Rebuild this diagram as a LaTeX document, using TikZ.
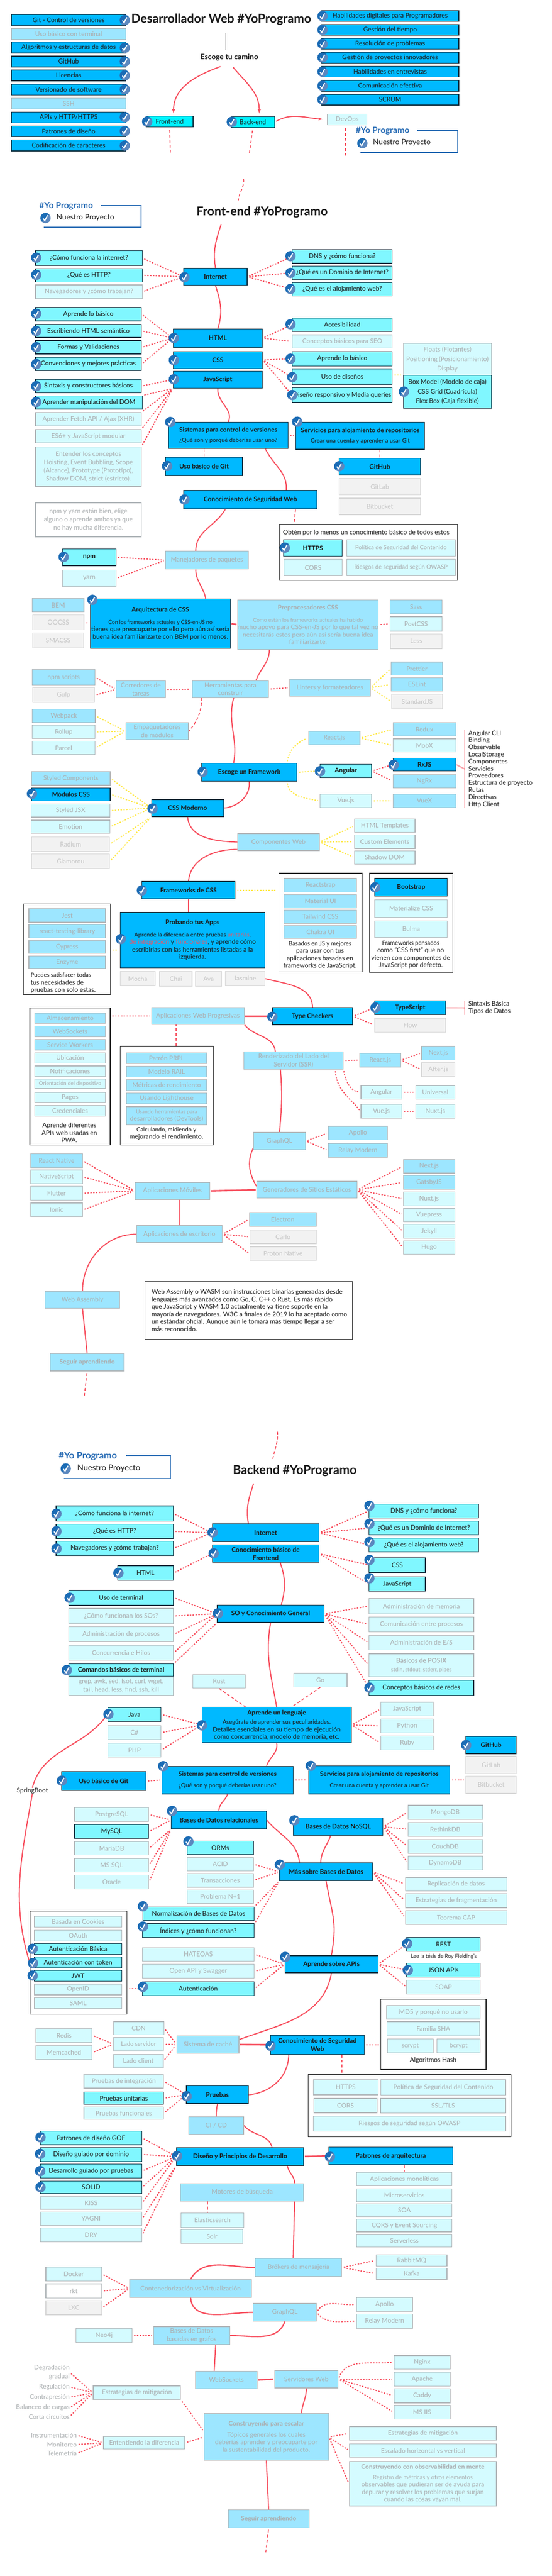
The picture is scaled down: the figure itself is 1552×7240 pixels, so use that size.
\documentclass[tikz,border=0pt]{standalone}
\usepackage{fontspec}
\setmainfont{Lato}
\pgfdeclarelayer{back}
\pgfsetlayers{back,main}
\definecolor{mainblue}{HTML}{00B9FF}
\definecolor{lightcyan}{HTML}{80F7FF}
\definecolor{brightcyan}{HTML}{00F2FF}
\definecolor{fadeblue}{HTML}{9DE6FF}
\definecolor{paleblue}{HTML}{D4FBFF}
\definecolor{greyfill}{HTML}{F2F2F2}
\definecolor{fadeline}{HTML}{B0B6B9}
\definecolor{greyline}{HTML}{D6D6D6}
\definecolor{fadetext}{HTML}{ABAFB1}
\definecolor{greytext}{HTML}{C6C6C6}
\definecolor{inkline}{HTML}{0D2F3F}
\definecolor{inktext}{HTML}{1A1A1A}
\definecolor{linkred}{HTML}{F7505F}
\definecolor{linkpink}{HTML}{F9A3AB}
\definecolor{linkyellow}{HTML}{FFE94A}
\definecolor{brandblue}{HTML}{2A6DB5}
\definecolor{tickdark}{HTML}{1B6CB5}
\definecolor{ticklight}{HTML}{5B88BF}
\newcommand{\nfont}{\fontsize{18}{21}\selectfont}
\newcommand{\mfont}{\fontsize{16.5}{19}\selectfont}
\newcommand{\sfont}{\fontsize{15}{18}\selectfont}
\newcounter{tickno}
% y values are read per band: y_page = \yo + y/\ys
\newcommand{\band}[2]{\def\yo{#1}\def\ys{#2}}
\newcommand{\bx}[7]{%
  \pgfmathsetmacro\cx{(#3+#5)/2}\pgfmathsetmacro\cy{\yo+(#4+#6)/2/\ys}%
  \pgfmathsetmacro\bw{#5-#3}\pgfmathsetmacro\bh{(#6-#4)/\ys}%
  \node[#1,minimum width=\bw pt,minimum height=\bh pt] (#2) at (\cx,\cy) {#7};}
\newcommand{\tx}[5]{%
  \pgfmathsetmacro\cy{\yo+#4/\ys}\node[#1] (#2) at (#3,\cy) {#5};}
\newcommand{\tk}[2]{%
  \stepcounter{tickno}\pgfmathsetmacro\cy{\yo+#2/\ys}%
  \node[tickmark] (tick\thetickno) at (#1,\cy) {};}
\newcommand{\pt}[3]{%
  \pgfmathsetmacro\cy{\yo+#3/\ys}\coordinate (#1) at (#2,\cy);}
\tikzset{
  basebox/.style={draw,rectangle,inner sep=0pt,align=center,font=\nfont,line width=1.8pt},
  mainbox/.style={basebox,fill=mainblue,draw=inkline,text=inktext},
  mainbold/.style={mainbox,font=\nfont\bfseries},
  lightbox/.style={basebox,fill=lightcyan,draw=inkline,text=inktext},
  lightbold/.style={lightbox,font=\nfont\bfseries},
  fadebox/.style={basebox,fill=fadeblue,draw=fadeline,text=fadetext},
  palebox/.style={basebox,fill=paleblue,draw=fadeline,text=fadetext},
  greybox/.style={basebox,fill=greyfill,draw=greyline,text=greytext},
  whitebox/.style={basebox,fill=white,draw=fadeline,text=fadetext},
  framebox/.style={basebox,fill=white,draw=black!85,text=inktext},
  cyanbox/.style={basebox,fill=brightcyan,draw=inkline,text=inktext},
  tickmark/.style={circle,inner sep=0pt,minimum size=29pt,fill=ticklight,
    path picture={
      \fill[tickdark] (path picture bounding box.north west) -- (path picture bounding box.north east)
        -- (path picture bounding box.south west) -- cycle;
      \draw[white,line width=3pt] (-7pt,-1pt) -- (-2pt,-7pt) -- (6pt,8pt);}},
  bigtitle/.style={font=\fontsize{34.5}{38}\selectfont\bfseries,text=inktext,inner sep=0pt},
  subtitle/.style={font=\fontsize{21}{24}\selectfont\bfseries,text=inktext,inner sep=0pt},
  brandname/.style={font=\fontsize{24}{28}\selectfont\bfseries,text=brandblue,inner sep=0pt},
  brandtext/.style={font=\fontsize{21}{24}\selectfont,text=inktext,inner sep=0pt},
  plaintext/.style={font=\nfont,text=inktext,inner sep=0pt,align=center},
  plainleft/.style={font=\nfont,text=inktext,inner sep=0pt,align=left,anchor=west},
  listtext/.style={font=\nfont,text=inktext,anchor=west,align=left,inner xsep=10pt,inner ysep=1pt},
  sidetext/.style={font=\nfont,text=fadetext,anchor=east,align=right,inner sep=0pt},
  flow/.style={draw=linkred,line width=3pt},
  flowthick/.style={draw=linkred,line width=4.5pt,shorten >=2pt,shorten <=2pt},
  dots/.style={draw=linkred,line width=3pt,dash pattern=on 4pt off 4pt,shorten >=5pt,shorten <=5pt},
  ydots/.style={draw=linkyellow,line width=3pt,dash pattern=on 4pt off 4pt,shorten >=5pt,shorten <=5pt},
  dashes/.style={draw=linkred,line width=2.5pt,dash pattern=on 8pt off 6pt},
  brandline/.style={draw=brandblue,line width=2.5pt},
  sideline/.style={draw=linkpink,line width=3.5pt},
  siderule/.style={draw=linkred,line width=1.5pt},
}
\begin{document}
\begin{tikzpicture}[x=1pt,y=-1pt]
\useasboundingbox (0,0) rectangle (1552,7240);

% header
\band{0}{2.529}
\bx{mainbox}{hgit}{32}{103}{354}{180}{Git - Control de versiones}
\bx{fadebox}{hterm}{32}{201}{354}{279}{Uso básico con terminal}
\bx{mainbox}{halgo}{32}{299}{354}{377}{Algoritmos y estructuras de datos}
\bx{mainbox}{hhub}{32}{399}{354}{476}{GitHub}
\bx{mainbox}{hlic}{32}{498}{354}{575}{Licencias}
\bx{mainbox}{hver}{32}{598}{354}{676}{Versionado de software}
\bx{fadebox}{hssh}{32}{697}{354}{775}{SSH}
\bx{mainbox}{hapi}{32}{796}{354}{874}{APIs y HTTP/HTTPS}
\bx{mainbox}{hpat}{32}{895}{354}{972}{Patrones de diseño}
\bx{mainbox}{hcod}{32}{995}{354}{1073}{Codificación de caracteres}
\foreach \y in {143,340,437,536,635,833,932,1035} {\tk{351}{\y}}
\bx{mainbox}{hdig}{904}{75}{1290}{152}{Habilidades digitales para Programadores}
\bx{mainbox}{htime}{904}{174}{1290}{251}{Gestión del tiempo}
\bx{mainbox}{hprob}{904}{273}{1290}{350}{Resolución de problemas}
\bx{mainbox}{hproy}{904}{371}{1290}{448}{Gestión de proyectos innovadores}
\bx{mainbox}{hint}{904}{471}{1290}{548}{Habilidades en entrevistas}
\bx{mainbox}{hcom}{904}{571}{1290}{648}{Comunicación efectiva}
\bx{mainbox}{hscrum}{904}{670}{1290}{747}{SCRUM}
\foreach \y in {115,212,312,409,510,610,708} {\tk{907}{\y}}
\tx{bigtitle}{htitle}{622}{140}{Desarrollador Web \#YoProgramo}
\tx{subtitle}{hpath}{645}{408}{Escoge tu camino}
\bx{cyanbox}{hfront}{411}{826}{543}{903}{Front-end}
\bx{cyanbox}{hback}{650}{829}{772}{906}{Back-end}
\bx{palebox}{hdevops}{921}{811}{1032}{888}{DevOps}
\tk{414}{865}
\tk{652}{867}
\tx{brandname}{hbrand}{1076}{930}{\#Yo Programo}
\tx{brandtext}{hproject}{1130}{1013}{Nuestro Proyecto}
\tk{1019}{1018}
\tx{brandname}{fbrand}{186}{1465}{\#Yo Programo}
\tx{brandtext}{fproject}{240}{1547}{Nuestro Proyecto}
\tk{128}{1550}
\tx{bigtitle}{ftitle}{737}{1507}{Front-end \#YoProgramo}

% frontend: internet, html, css, javascript
\band{620}{2.529}
\bx{mainbold}{finternet}{517}{338}{695}{460}{Internet}
\bx{lightbox}{fcomo}{100}{214}{400}{321}{¿Cómo funciona la internet?}
\bx{lightbox}{fhttp}{100}{341}{400}{437}{¿Qué es HTTP?}
\bx{palebox}{fnav}{100}{457}{400}{553}{Navegadores y ¿cómo trabajan?}
\bx{lightbox}{fdns}{822}{207}{1103}{303}{DNS y ¿cómo funciona?}
\bx{lightbox}{fdominio}{822}{323}{1103}{419}{¿Qué es un Dominio de Internet?}
\bx{lightbox}{fhosting}{822}{440}{1103}{536}{¿Qué es el alojamiento web?}
\bx{lightbox}{fbasic}{100}{618}{397}{713}{Aprende lo básico}
\bx{lightbox}{fsem}{100}{736}{397}{831}{Escribiendo HTML semántico}
\bx{lightbox}{fform}{100}{853}{397}{948}{Formas y Validaciones}
\bx{lightbox}{fconv}{100}{971}{397}{1067}{Convenciones y mejores prácticas}
\bx{mainbold}{fhtml}{487}{769}{738}{902}{HTML}
\bx{mainbold}{fcss}{487}{931}{738}{1051}{CSS}
\bx{mainbold}{fjs}{487}{1070}{738}{1191}{JavaScript}
\bx{lightbox}{facc}{822}{692}{1103}{788}{Accesibilidad}
\bx{palebox}{fseo}{822}{812}{1103}{907}{Conceptos básicos para SEO}
\bx{lightbox}{fcssbasic}{822}{930}{1103}{1033}{Aprende lo básico}
\bx{lightbox}{flayout}{822}{1054}{1103}{1167}{Uso de diseños}
\bx{lightbox}{fresp}{822}{1189}{1103}{1292}{Diseño responsivo y Media queries}
\bx{palebox}{ffloat}{1134}{873}{1382}{1100}{Floats (Flotantes)\\[6pt]Positioning (Posicionamiento)\\[6pt]Display}
\bx{lightbox}{fmodel}{1134}{1100}{1382}{1335}{Box Model (Modelo de caja)\\[6pt]CSS Grid (Cuadrícula)\\[6pt]Flex Box (Caja flexible)}
\bx{lightbox}{fsyntax}{100}{1128}{397}{1224}{Sintaxis y constructores básicos}
\bx{lightbox}{fdom}{100}{1245}{400}{1340}{Aprender manipulación del DOM}
\bx{palebox}{ffetch}{100}{1364}{397}{1459}{Aprender Fetch API / Ajax (XHR)}
\bx{palebox}{fes}{100}{1485}{397}{1580}{ES6+ y JavaScript modular}
\bx{mainbox}{fsistemas}{474}{1433}{810}{1621}{\textbf{Sistemas para control de versiones}\\[8pt]\mfont ¿Qué son y porqué deberías usar uno?}
\bx{mainbox}{fservicios}{832}{1433}{1194}{1625}{\textbf{Servicios para alojamiento de repositorios}\\[8pt]\mfont Crear una cuenta y aprender a usar Git}
\tk{519}{403}
\foreach \y in {264,386,662,785,900,1020,1177,1290} {\tk{102}{\y}}
\foreach \y in {253,372,486,737,982} {\tk{817}{\y}}
\foreach \y in {1113,1240} {\tk{822}{\y}}
\foreach \y in {835,992,1128} {\tk{489}{\y}}
\tk{1136}{1216}
\tk{479}{1432}
\tk{836}{1430}

% frontend: git, security, package managers, css architecture
\band{1240}{2.529}
\bx{palebox}{fconcepts}{100}{41}{397}{321}{Entender los conceptos\\[2pt]Hoisting, Event Bubbling, Scope\\[2pt](Alcance), Prototype (Prototipo),\\[2pt]Shadow DOM, strict (estricto).}
\bx{mainbold}{fgit}{466}{113}{682}{245}{Uso básico de Git}
\bx{mainbold}{fhub}{953}{121}{1183}{240}{GitHub}
\bx{greybox}{flab}{953}{264}{1183}{382}{GitLab}
\bx{greybox}{fbucket}{953}{405}{1183}{522}{Bitbucket}
\bx{mainbold}{fseguridad}{517}{349}{891}{481}{Conocimiento de Seguridad Web}
\bx{whitebox}{fnpmnote}{100}{438}{397}{680}{npm y yarn están bien, elige\\[2pt]alguno o aprende ambos ya que\\[2pt]no hay mucha diferencia.}
\bx{framebox}{fsecframe}{785}{590}{1286}{990}{}
\tx{plaintext}{fsectext}{1030}{650}{Obtén por lo menos un conocimiento básico de todos estos}
\bx{lightbold}{fhttps}{798}{700}{962}{818}{HTTPS}
\bx{palebox}{fcsp}{975}{701}{1280}{817}{\mfont Política de Seguridad del Contenido}
\bx{palebox}{fcors}{799}{840}{962}{956}{CORS}
\bx{palebox}{fowasp}{975}{839}{1280}{955}{\mfont Riesgos de seguridad según OWASP}
\bx{fadebox}{fpack}{466}{781}{698}{910}{Manejadores de paquetes}
\bx{lightbold}{fnpm}{176}{766}{326}{885}{npm}
\bx{palebox}{fyarn}{176}{915}{326}{1034}{yarn}
\bx{mainbox}{farq}{254}{1120}{648}{1472}{\textbf{Arquitectura de CSS}\\[14pt]\sfont Con los frameworks actuales y CSS-en-JS no\\tienes que preocuparte por ello pero aún así sería\\buena idea familiarizarte con BEM por lo menos.}
\bx{fadebox}{fbem}{91}{1118}{236}{1213}{BEM}
\bx{greybox}{foocss}{92}{1235}{236}{1340}{OOCSS}
\bx{greybox}{fsmacss}{92}{1364}{235}{1470}{SMACSS}
\bx{fadebox}{fpre}{669}{1128}{1063}{1480}{\textbf{Preprocesadores CSS}\\[14pt]\sfont Como están los frameworks actuales ha habido\\mucho apoyo para CSS-en-JS por lo que tal vez no\\necesitarás estos pero aún así sería buena idea\\familiarizarte.}
\bx{fadebox}{fsass}{1097}{1127}{1243}{1227}{Sass}
\bx{palebox}{fpost}{1097}{1247}{1243}{1350}{PostCSS}
\bx{greybox}{fless}{1098}{1369}{1243}{1474}{Less}
\tk{470}{176}
\tk{954}{178}
\tk{519}{415}
\tk{801}{757}
\tk{179}{823}
\tk{260}{1128}

% frontend: build tools, frameworks, modern css
\band{1860}{2.529}
\bx{fadebox}{fbuild}{541}{134}{755}{255}{Herramientas para\\construir}
\bx{fadebox}{frunner}{327}{136}{465}{257}{Corredores de\\[2pt]tareas}
\bx{fadebox}{fscripts}{91}{56}{267}{164}{npm scripts}
\bx{greybox}{fgulp}{92}{184}{266}{290}{Gulp}
\bx{fadebox}{flint}{815}{124}{1041}{244}{Linters y formateadores}
\bx{fadebox}{fprettier}{1100}{2}{1245}{96}{Prettier}
\bx{fadebox}{feslint}{1100}{113}{1245}{209}{ESLint}
\bx{greybox}{fstandard}{1101}{231}{1245}{335}{StandardJS}
\bx{fadebox}{fwebpack}{91}{337}{268}{432}{Webpack}
\bx{palebox}{frollup}{91}{451}{267}{546}{Rollup}
\bx{palebox}{fparcel}{91}{564}{267}{660}{Parcel}
\bx{fadebox}{fbundle}{354}{433}{530}{554}{Empaquetadores\\[2pt]de módulos}
\bx{mainbold}{fchoose}{567}{721}{835}{850}{Escoge un Framework}
\bx{fadebox}{freact}{868}{494}{1012}{590}{React.js}
\bx{fadebox}{fredux}{1105}{433}{1282}{528}{Redux}
\bx{palebox}{fmobx}{1105}{547}{1282}{641}{MobX}
\bx{lightbold}{fangular}{900}{729}{1045}{823}{Angular}
\bx{mainbold}{frxjs}{1105}{686}{1282}{776}{RxJS}
\bx{fadebox}{fngrx}{1105}{802}{1282}{897}{NgRx}
\bx{palebox}{fvue}{900}{941}{1045}{1036}{Vue.js}
\bx{fadebox}{fvuex}{1105}{940}{1282}{1036}{VueX}
\tx{listtext}{flist}{1307}{762}{Angular CLI\\[-1pt]Binding\\[-1pt]Observable\\[-1pt]LocalStorage\\[-1pt]Componentes\\[-1pt]Servicios\\[-1pt]Proveedores\\[-1pt]Estructura de proyecto\\[-1pt]Rutas\\[-1pt]Directivas\\[-1pt]Http Client}
\bx{fadebox}{fstyled}{89}{782}{310}{877}{Styled Components}
\bx{mainbold}{fmodules}{89}{896}{310}{988}{Módulos CSS}
\bx{palebox}{fjsx}{88}{1010}{309}{1104}{Styled JSX}
\bx{palebox}{femotion}{88}{1126}{309}{1220}{Emotion}
\bx{greybox}{fradium}{89}{1245}{308}{1348}{Radium}
\bx{greybox}{fglam}{89}{1367}{308}{1470}{Glamorou}
\bx{mainbold}{fmodern}{426}{979}{629}{1100}{CSS Moderno}
\bx{fadebox}{fweb}{668}{1221}{898}{1342}{Componentes Web}
\bx{palebox}{ftemplates}{997}{1118}{1167}{1213}{HTML Templates}
\bx{palebox}{fcustom}{997}{1231}{1167}{1327}{Custom Elements}
\bx{palebox}{fshadow}{997}{1343}{1167}{1438}{Shadow DOM}
\tk{570}{782}
\tk{900}{778}
\tk{1107}{733}
\tk{90}{938}
\tk{429}{1043}

% frontend: css frameworks, testing, type checkers, pwa, ssr
\band{2480}{2.529}
\bx{mainbold}{fframe}{399}{-6}{661}{115}{Frameworks de CSS}
\bx{framebox}{fjsframe}{784}{-65}{1018}{637}{}
\bx{framebox}{fcssframe}{1039}{-65}{1273}{638}{}
\bx{fadebox}{fstrap}{799}{-28}{1003}{68}{Reactstrap}
\bx{fadebox}{fmaterial}{799}{86}{1003}{182}{Material UI}
\bx{fadebox}{ftail}{799}{197}{1003}{290}{Tailwind CSS}
\bx{fadebox}{fchakra}{799}{309}{1003}{397}{Chakra UI}
\tx{plaintext}{fjstext}{900}{517}{\mfont Basados en JS y mejores\\para usar con tus\\aplicaciones basadas en\\frameworks de JavaScript.}
\bx{mainbold}{fboot}{1054}{-28}{1258}{98}{Bootstrap}
\bx{palebox}{fmatcss}{1054}{124}{1258}{247}{Materialize CSS}
\bx{palebox}{fbulma}{1054}{273}{1258}{391}{Bulma}
\tx{plaintext}{fcsstext}{1155}{514}{\mfont Frameworks pensados\\como "CSS first" que no\\vienen con componentes de\\JavaScript por defecto.}
\bx{mainbox}{ftest}{338}{213}{745}{606}{\textbf{Probando tus Apps}\\[14pt]\mfont Aprende la diferencia entre pruebas \textcolor{linkred}{unitarias},\\\textcolor{linkred}{de integración} y \textcolor{linkred}{funcionales}, y aprende cómo\\escribirlas con las herramientas listadas a la\\izquierda.}
\bx{framebox}{ftestframe}{66}{153}{311}{796}{}
\bx{fadebox}{fjest}{81}{187}{297}{283}{Jest}
\bx{fadebox}{frtl}{81}{300}{297}{396}{react-testing-library}
\bx{fadebox}{fcypress}{81}{412}{297}{505}{Cypress}
\bx{fadebox}{fenzyme}{81}{523}{297}{612}{Enzyme}
\tx{plainleft}{ftesttext}{86}{715}{\mfont Puedes satisfacer todas\\tus necesidades de\\pruebas con solo estas.}
\bx{greybox}{fmocha}{338}{632}{437}{736}{Mocha}
\bx{greybox}{fchai}{449}{634}{540}{738}{Chai}
\bx{greybox}{fava}{550}{634}{623}{738}{Ava}
\bx{greybox}{fjasmine}{633}{632}{745}{736}{Jasmine}
\bx{mainbold}{ftype}{766}{890}{992}{1012}{Type Checkers}
\bx{mainbold}{fts}{1054}{842}{1253}{940}{TypeScript}
\bx{greybox}{fflow}{1054}{967}{1253}{1064}{Flow}
\tx{listtext}{ftslist}{1307}{892}{Sintaxis Básica\\[-1pt]Tipos de Datos}
\bx{fadebox}{fpwa}{426}{891}{687}{1011}{Aplicaciones Web Progresivas}
\bx{framebox}{fapiframe}{84}{892}{310}{1866}{}
\bx{fadebox}{fstore}{98}{928}{296}{1003}{Almacenamiento}
\bx{fadebox}{fsockets}{98}{1022}{296}{1097}{WebSockets}
\bx{fadebox}{fworkers}{98}{1115}{296}{1191}{Service Workers}
\bx{palebox}{flocation}{98}{1210}{296}{1284}{Ubicación}
\bx{palebox}{fnotif}{98}{1305}{296}{1380}{Notificaciones}
\bx{palebox}{fdevice}{98}{1399}{296}{1466}{\sfont Orientación del dispositivo}
\bx{palebox}{fpay}{98}{1492}{296}{1566}{Pagos}
\bx{palebox}{fcred}{98}{1586}{296}{1661}{Credenciales}
\bx{framebox}{fperfframe}{338}{1164}{600}{1866}{}
\bx{fadebox}{fprpl}{356}{1211}{581}{1287}{Patrón PRPL}
\bx{fadebox}{frail}{356}{1306}{581}{1383}{Modelo RAIL}
\bx{fadebox}{fmetric}{356}{1403}{581}{1480}{Métricas de rendimiento}
\bx{fadebox}{flight}{356}{1497}{581}{1575}{Usando Lighthouse}
\bx{fadebox}{fdevtools}{356}{1594}{581}{1724}{\sfont Usando herramientas para\\desarrolladores (DevTools)}
\bx{fadebox}{fssr}{686}{1205}{965}{1327}{Renderizado del Lado del\\[2pt]Servidor (SSR)}
\bx{fadebox}{fssrreact}{1011}{1214}{1127}{1312}{React.js}
\bx{fadebox}{fnextjs}{1186}{1163}{1279}{1262}{Next.js}
\bx{greybox}{fafter}{1186}{1283}{1279}{1380}{After.js}
\bx{palebox}{fssrangular}{1015}{1444}{1130}{1542}{Angular}
\bx{palebox}{funiversal}{1169}{1444}{1279}{1542}{Universal}
\tk{399}{57}
\tk{1055}{35}
\tk{340}{403}
\tk{766}{955}
\tk{1056}{890}

% frontend: graphql, static sites, mobile, desktop, wasm
\band{3100}{2.529}
\tx{plaintext}{fapitext}{195}{211}{Aprende diferentes\\APIs web usadas en\\PWA.}
\tx{plaintext}{fperftext}{468}{218}{\mfont Calculando, midiendo y\\mejorando el rendimiento.}
\bx{palebox}{fssrvue}{1015}{10}{1130}{108}{Vue.js}
\bx{palebox}{fnuxt}{1169}{10}{1279}{108}{Nuxt.js}
\bx{fadebox}{fgql}{713}{209}{859}{331}{GraphQL}
\bx{fadebox}{fapollo}{923}{165}{1090}{263}{Apollo}
\bx{fadebox}{frelay}{923}{288}{1090}{386}{Relay Modern}
\bx{fadebox}{fgen}{722}{557}{1004}{677}{Generadores de Sitios Estáticos}
\bx{fadebox}{fsnext}{1134}{400}{1279}{498}{Next.js}
\bx{fadebox}{fgatsby}{1134}{516}{1279}{613}{GatsbyJS}
\bx{palebox}{fsnuxt}{1134}{632}{1279}{730}{Nuxt.js}
\bx{palebox}{fvuepress}{1134}{747}{1279}{844}{Vuepress}
\bx{palebox}{fjekyll}{1134}{863}{1279}{961}{Jekyll}
\bx{palebox}{fhugo}{1134}{979}{1279}{1076}{Hugo}
\bx{fadebox}{fmobile}{380}{564}{590}{685}{Aplicaciones Móviles}
\bx{fadebox}{fnative}{86}{362}{232}{460}{React Native}
\bx{palebox}{fscript}{86}{476}{232}{573}{NativeScript}
\bx{palebox}{fflutter}{86}{592}{232}{690}{Flutter}
\bx{palebox}{fionic}{86}{711}{232}{808}{Ionic}
\bx{fadebox}{fdesk}{384}{872}{625}{993}{Aplicaciones de escritorio}
\bx{fadebox}{felectron}{701}{779}{889}{877}{Electron}
\bx{greybox}{fcarlo}{703}{903}{889}{1000}{Carlo}
\bx{greybox}{fproton}{703}{1022}{889}{1120}{Proton Native}
\bx{fadebox}{fwasm}{127}{1337}{337}{1460}{Web Assembly}
\bx{framebox}{fwasmframe}{408}{1268}{992}{1680}{}
\tx{plainleft}{fwasmtext}{426}{1474}{Web Assembly o WASM son instrucciones binarias generadas desde\\lenguajes más avanzados como Go, C, C++ o Rust. Es más rápido\\que JavaScript y WASM 1.0 actualmente ya tiene soporte en la\\mayoría de navegadores. W3C a finales de 2019 lo ha aceptado como\\un estándar oficial. Aunque aún le tomará más tiempo llegar a ser\\más reconocido.}

% backend
\band{3720}{2.529}
\bx{fadebox}{fkeep}{141}{214}{349}{337}{\textbf{Seguir aprendiendo}}
\tx{brandname}{bbrand}{247}{943}{\fontsize{26}{30}\selectfont\#Yo Programo}
\tx{brandtext}{bproject}{306}{1028}{\fontsize{23}{26}\selectfont Nuestro Proyecto}
\tk{185}{1031}
\tx{bigtitle}{btitle}{829}{1047}{Backend \#YoProgramo}
\bx{mainbold}{binternet}{597}{1424}{897}{1550}{Internet}
\bx{lightbox}{bcomo}{158}{1296}{487}{1405}{¿Cómo funciona la internet?}
\bx{lightbox}{bhttp}{158}{1427}{487}{1527}{¿Qué es HTTP?}
\bx{lightbox}{bnav}{158}{1548}{487}{1648}{Navegadores y ¿cómo trabajan?}
\bx{lightbox}{bdns}{1038}{1282}{1346}{1381}{DNS y ¿cómo funciona?}
\bx{lightbox}{bdominio}{1038}{1403}{1346}{1501}{¿Qué es un Dominio de Internet?}
\bx{lightbox}{bhosting}{1038}{1525}{1346}{1622}{¿Qué es el alojamiento web?}
\tk{598}{1484}
\tk{159}{1352}
\tk{159}{1476}
\foreach \y in {1295,1423,1553} {\tk{1039}{\y}}

\band{4340}{2.529}
\tk{159}{32}
\bx{mainbold}{bfront}{597}{5}{897}{130}{Conocimiento básico de\\[2pt]Frontend}
\bx{lightbox}{bhtml}{331}{153}{487}{257}{HTML}
\bx{lightbox}{bcss}{1038}{97}{1196}{200}{CSS}
\bx{lightbox}{bjs}{1038}{231}{1196}{335}{JavaScript}
\bx{mainbold}{bso}{611}{433}{911}{556}{SO y Conocimiento General}
\bx{lightbox}{bterm}{193}{327}{488}{435}{Uso de terminal}
\bx{palebox}{bsos}{193}{457}{488}{564}{¿Cómo funcionan los SOs?}
\bx{palebox}{bproc}{193}{588}{488}{691}{Administración de procesos}
\bx{palebox}{bconc}{193}{719}{488}{824}{Concurrencia e Hilos}
\bx{palebox}{bcmdlist}{193}{937}{488}{1074}{grep, awk, sed, lsof, curl, wget,\\[2pt]tail, head, less, find, ssh, kill}
\bx{lightbold}{bcmd}{193}{851}{488}{937}{\raisebox{-6pt}{Comandos básicos de terminal}}
\bx{palebox}{bmem}{1038}{387}{1332}{494}{Administración de memoria}
\bx{palebox}{bipc}{1038}{517}{1332}{623}{Comunicación entre procesos}
\bx{palebox}{bio}{1038}{648}{1332}{752}{Administración de E/S}
\bx{palebox}{bposix}{1038}{779}{1332}{942}{\textbf{Básicos de POSIX}\\[4pt]\sfont stdin, stdout, stderr, pipes}
\bx{lightbox}{bnet}{1038}{967}{1332}{1074}{Conceptos básicos de redes}
\bx{mainbox}{blang}{568}{1159}{988}{1411}{\textbf{Aprende un lenguaje}\\[6pt]\mfont Asegúrate de aprender sus peculiaridades.\\Detalles esenciales en su tiempo de ejecución\\como concurrencia, modelo de memoria, etc.}
\bx{palebox}{brust}{542}{927}{690}{1023}{Rust}
\bx{palebox}{bgo}{826}{915}{976}{1014}{Go}
\bx{lightbox}{bjava}{303}{1162}{453}{1259}{Java}
\bx{palebox}{bcsharp}{303}{1290}{453}{1388}{C\#}
\bx{palebox}{bphp}{303}{1414}{453}{1512}{PHP}
\bx{palebox}{bjsl}{1071}{1123}{1219}{1220}{JavaScript}
\bx{palebox}{bpy}{1071}{1242}{1219}{1342}{Python}
\bx{palebox}{bruby}{1071}{1364}{1219}{1463}{Ruby}
\bx{mainbold}{bhub}{1310}{1366}{1452}{1489}{GitHub}
\bx{greybox}{blab}{1310}{1508}{1452}{1630}{GitLab}
\bx{greybox}{bbucket}{1310}{1650}{1452}{1771}{Bitbucket}
\tk{601}{65}
\tk{333}{205}
\foreach \y in {112,242,1020} {\tk{1039}{\y}}
\tk{196}{381}
\tk{613}{492}
\tk{188}{895}
\tk{568}{1288}
\tk{305}{1208}
\tk{1311}{1428}

\band{4960}{2.529}
\bx{mainbold}{bgit}{173}{48}{410}{184}{Uso básico de Git}
\bx{mainbox}{bsist}{455}{10}{825}{207}{\textbf{Sistemas para control de versiones}\\[10pt]\mfont ¿Qué son y porqué deberías usar uno?}
\bx{mainbox}{bserv}{868}{8}{1265}{207}{\textbf{Servicios para alojamiento de repositorios}\\[10pt]\mfont Crear una cuenta y aprender a usar Git}
\tx{plaintext}{bspring}{91}{184}{SpringBoot}
\bx{mainbold}{brel}{482}{329}{749}{456}{Bases de Datos relacionales}
\bx{palebox}{bpg}{210}{305}{418}{403}{PostgreSQL}
\bx{lightbox}{bmysql}{210}{426}{418}{525}{MySQL}
\bx{palebox}{bmaria}{210}{546}{418}{641}{MariaDB}
\bx{palebox}{bms}{210}{667}{418}{763}{MS SQL}
\bx{palebox}{boracle}{210}{785}{418}{884}{Oracle}
\bx{mainbold}{bnosql}{825}{378}{1077}{503}{Bases de Datos NoSQL}
\bx{palebox}{bmongo}{1147}{288}{1357}{388}{MongoDB}
\bx{palebox}{brethink}{1147}{409}{1357}{508}{RethinkDB}
\bx{palebox}{bcouch}{1147}{532}{1357}{629}{CouchDB}
\bx{palebox}{bdynamo}{1147}{647}{1357}{748}{DynamoDB}
\bx{mainbold}{bmas}{786}{698}{1048}{824}{Más sobre Bases de Datos}
\bx{lightbox}{borm}{526}{543}{713}{639}{ORMs}
\bx{palebox}{bacid}{526}{659}{713}{755}{ACID}
\bx{palebox}{btrans}{526}{772}{713}{870}{Transacciones}
\bx{palebox}{bn}{526}{890}{713}{985}{Problema N+1}
\bx{lightbox}{bnorm}{402}{1010}{715}{1106}{Normalización de Bases de Datos}
\bx{lightbox}{bidx}{400}{1130}{715}{1228}{Índices y ¿cómo funcionan?}
\bx{palebox}{brep}{1140}{800}{1425}{896}{Replicación de datos}
\bx{palebox}{bshard}{1140}{916}{1425}{1016}{Estrategias de fragmentación}
\bx{palebox}{bcap}{1140}{1037}{1425}{1135}{Teorema CAP}
\bx{mainbold}{bapis}{801}{1357}{1063}{1478}{Aprende sobre APIs}
\bx{lightbox}{brest}{1144}{1227}{1350}{1325}{REST}
\tx{plaintext}{bfield}{1248}{1364}{\sfont Lee la tésis de Roy Fielding's}
\bx{lightbox}{bjson}{1144}{1409}{1350}{1508}{JSON APIs}
\bx{palebox}{bsoap}{1144}{1530}{1350}{1630}{SOAP}
\bx{palebox}{bhate}{400}{1299}{715}{1395}{HATEOAS}
\bx{palebox}{bswag}{400}{1418}{715}{1516}{Open API y Swagger}
\bx{lightbox}{bauth}{400}{1543}{715}{1640}{Autenticación}
\bx{framebox}{bauthframe}{85}{1040}{357}{1773}{}
\bx{palebox}{bcook}{97}{1078}{342}{1155}{Basada en Cookies}
\bx{palebox}{boauth}{97}{1177}{342}{1253}{OAuth}
\bx{lightbox}{bbasic}{97}{1270}{342}{1348}{Autenticación Básica}
\bx{lightbox}{btoken}{97}{1365}{342}{1443}{Autenticación con token}
\bx{lightbox}{bjwt}{97}{1462}{342}{1538}{JWT}
\bx{palebox}{bopen}{97}{1558}{342}{1635}{OpenID}
\bx{palebox}{bsaml}{97}{1655}{342}{1731}{SAML}
\tk{174}{113}
\tk{459}{10}
\tk{874}{8}
\tk{484}{328}
\tk{828}{395}
\tk{787}{710}
\tk{530}{545}
\tk{402}{1006}
\tk{402}{1150}
\tk{802}{1366}
\tk{1145}{1271}
\tk{1147}{1460}
\tk{92}{1308}
\tk{93}{1410}
\tk{92}{1498}
\tk{402}{1578}

\band{5580}{2.529}
\bx{fadebox}{bcache}{497}{357}{672}{483}{Sistema de caché}
\bx{palebox}{bcdn}{319}{258}{461}{351}{CDN}
\bx{palebox}{bserver}{319}{370}{460}{466}{\mfont Lado servidor}
\bx{palebox}{bclient}{319}{489}{459}{586}{Lado client}
\bx{palebox}{bredis}{101}{306}{259}{405}{Redis}
\bx{palebox}{bmemc}{101}{428}{259}{526}{Memcached}
\bx{mainbold}{bseg}{761}{354}{1024}{490}{Conocimiento de Seguridad\\[2pt]Web}
\bx{framebox}{bhashframe}{1071}{99}{1367}{598}{}
\bx{palebox}{bmd}{1087}{142}{1350}{239}{MD5 y porqué no usarlo}
\bx{palebox}{bsha}{1088}{258}{1349}{357}{Familia SHA}
\bx{palebox}{bscrypt}{1089}{380}{1218}{480}{scrypt}
\bx{palebox}{bbcrypt}{1229}{380}{1350}{480}{bcrypt}
\tx{plaintext}{bhash}{1218}{534}{Algoritmos Hash}
\bx{framebox}{bsecframe}{867}{635}{1437}{1076}{}
\bx{palebox}{bhttps}{881}{671}{1063}{778}{HTTPS}
\bx{palebox}{bcsp}{1071}{671}{1422}{780}{Política de Seguridad del Contenido}
\bx{palebox}{bcors}{882}{803}{1061}{906}{CORS}
\bx{palebox}{bssl}{1070}{803}{1422}{909}{SSL/TLS}
\bx{palebox}{bowasp}{881}{930}{1422}{1035}{Riesgos de seguridad según OWASP}
\bx{mainbold}{btest}{524}{714}{699}{840}{Pruebas}
\bx{palebox}{bint}{236}{632}{460}{730}{Pruebas de integración}
\bx{lightbox}{bunit}{236}{757}{460}{846}{Pruebas unitarias}
\bx{palebox}{bfunc}{236}{864}{460}{952}{Pruebas funcionales}
\bx{fadebox}{bci}{531}{933}{685}{1059}{CI / CD}
\bx{mainbold}{bdesign}{496}{1153}{854}{1279}{Diseño y Principios de Desarrollo}
\bx{mainbold}{barq}{924}{1149}{1274}{1274}{Patrones de arquitectura}
\bx{lightbox}{bgof}{113}{1035}{399}{1133}{Patrones de diseño GOF}
\bx{lightbox}{bddd}{113}{1152}{399}{1251}{Diseño guiado por dominio}
\bx{lightbox}{btdd}{113}{1271}{399}{1368}{Desarrollo guiado por pruebas}
\bx{lightbox}{bsolid}{113}{1391}{399}{1479}{SOLID}
\bx{palebox}{bkiss}{113}{1500}{399}{1591}{KISS}
\bx{fadebox}{bsearch}{508}{1408}{854}{1535}{Motores de búsqueda}
\bx{palebox}{bmono}{1003}{1328}{1271}{1425}{Aplicaciones monolíticas}
\bx{palebox}{bmicro}{1003}{1446}{1271}{1537}{Microservicios}
\tk{761}{430}
\tk{525}{788}
\tk{498}{1213}
\tk{928}{1218}
\tk{114}{1080}
\tk{113}{1198}
\tk{113}{1320}
\tk{114}{1435}

\band{6200}{3}
\bx{palebox}{byagni}{113}{50}{399}{163}{YAGNI}
\bx{palebox}{bdry}{113}{187}{399}{302}{DRY}
\bx{palebox}{belastic}{509}{60}{686}{180}{Elasticsearch}
\bx{palebox}{bsolr}{509}{199}{683}{315}{Solr}
\bx{palebox}{bsoa}{1003}{-18}{1271}{90}{SOA}
\bx{palebox}{bcqrs}{1003}{111}{1271}{218}{CQRS y Event Sourcing}
\bx{palebox}{bless}{1003}{237}{1271}{347}{Serverless}
\bx{fadebox}{bbroker}{718}{443}{961}{594}{Brókers de mensajería}
\bx{palebox}{brabbit}{1058}{410}{1257}{507}{RabbitMQ}
\bx{palebox}{bkafka}{1058}{524}{1257}{618}{Kafka}
\bx{fadebox}{bcont}{365}{620}{707}{772}{Contenedorización vs Virtualización}
\bx{palebox}{bdocker}{129}{516}{286}{632}{Docker}
\bx{whitebox}{brkt}{129}{657}{286}{777}{rkt}
\bx{greybox}{blxc}{129}{797}{286}{917}{LXC}
\bx{fadebox}{bgql}{712}{822}{890}{972}{GraphQL}
\bx{palebox}{bapollo}{1003}{771}{1160}{888}{Apollo}
\bx{palebox}{brelay}{1003}{911}{1160}{1032}{Relay Modern}
\bx{fadebox}{bgraph}{432}{1017}{646}{1167}{Bases de Datos\\[2pt]basadas en grafos}
\bx{palebox}{bneo}{214}{1032}{371}{1149}{Neo4j}
\bx{fadebox}{bsock}{550}{1392}{723}{1541}{WebSockets}
\bx{fadebox}{bweb}{772}{1386}{951}{1534}{Servidores Web}
\bx{palebox}{bnginx}{1108}{1260}{1266}{1377}{Nginx}
\bx{palebox}{bapache}{1108}{1401}{1266}{1520}{Apache}
\bx{palebox}{bcaddy}{1108}{1541}{1266}{1660}{Caddy}
\tx{sidetext}{bdegrade}{196}{1403}{Degradación\\[3pt]gradual}
\tx{sidetext}{bthrottle}{196}{1525}{Regulación}

\band{6720}{3}
\bx{palebox}{bmsiis}{1108}{120}{1266}{237}{MS IIS}
\bx{palebox}{bmitleft}{262}{-43}{508}{73}{Estrategias de mitigación}
\tx{sidetext}{bback}{196}{52}{Contrapresión}
\tx{sidetext}{bload}{196}{140}{Balanceo de cargas}
\tx{sidetext}{bbreak}{196}{217}{Corta circuitos}
\bx{fadebox}{bscale}{574}{191}{924}{585}{\textbf{Construyendo para escalar}\\[10pt]Tópicos generales los cuales\\deberías aprender y preocuparte por\\la sustentabilidad del producto.}
\bx{palebox}{bdiff}{291}{384}{520}{489}{Ententiendo la diferencia}
\tx{sidetext}{binstr}{216}{373}{Instrumentación}
\tx{sidetext}{bmon}{216}{451}{Monitoreo}
\tx{sidetext}{btele}{216}{527}{Telemetría}
\bx{palebox}{bmitright}{982}{300}{1396}{416}{Estrategias de mitigación}
\bx{palebox}{bhoriz}{983}{445}{1396}{560}{Escalado horizontal vs vertical}
\bx{palebox}{bobs}{982}{592}{1396}{969}{\textbf{Construyendo con observabilidad en mente}\\[8pt]\mfont Registro de métricas y otros elementos\\observables que pudieran ser de ayuda para\\depurar y resolver los problemas que surjan\\cuando las cosas vayan mal.}
\bx{fadebox}{bnext}{642}{1002}{869}{1152}{\textbf{Seguir aprendiendo}}

\begin{pgfonlayer}{back}
% header links
\band{0}{2.529}
\pt{hlinetop}{635}{235}
\pt{hlinebot}{635}{357}
\draw[draw=gray,line width=2.5pt] (hlinetop) -- (hlinebot);
\pt{hleft}{620}{473}
\pt{hright}{655}{477}
\pt{harrowl}{488}{807}
\pt{harrowr}{729}{807}
\draw[flow,-latex] (hleft) to[out=200,in=90] (harrowl);
\draw[flow,-latex] (hright) to[out=-50,in=90] (harrowr);
\pt{harrowd}{908}{848}
\draw[flow,-latex,shorten <=4pt] (hback.east) to[out=30,in=175] (harrowd);
\pt{hdownf}{479}{1087}
\pt{hdownb}{701}{1095}
\pt{hdownd}{972}{1108}
\draw[dashes,shorten <=7pt] (hfront.south) -- (hdownf);
\draw[dashes,shorten <=8pt] (hback.south) -- (hdownb);
\pt{hdevstart}{972}{910}
\draw[dashes] (hdevstart) -- (hdownd);
\pt{fdashtop}{685}{1275}
\pt{fdashbot}{670}{1425}
\draw[dashes] (fdashtop) to[out=-85,in=85] (fdashbot);
\pt{hbrandstart}{1173}{926}
\pt{hbrandcorner}{1287}{926}
\pt{hbrandlow}{1287}{1083}
\pt{hbrandend}{1013}{1083}
\draw[brandline] (hbrandstart) -- (hbrandcorner) -- (hbrandlow) -- (hbrandend);
\pt{fbrandstart}{284}{1460}
\pt{fbrandcorner}{397}{1460}
\pt{fbrandlow}{397}{1615}
\pt{fbrandend}{123}{1615}
\draw[brandline] (fbrandstart) -- (fbrandcorner) -- (fbrandlow) -- (fbrandend);

% frontend links
\band{620}{2.529}
\pt{ftop}{622}{25}
\draw[flow] (ftop) to[out=-108,in=100] (finternet.north);
\foreach \a in {fcomo,fhttp,fnav} \draw[dots] (\a.east) -- (finternet.west);
\foreach \a in {fdns,fdominio,fhosting} \draw[dots] (finternet.east) -- (\a.west);
\draw[flow] (finternet.south) to[out=-72,in=72] (fhtml.north);
\foreach \a in {fbasic,fsem,fform,fconv} \draw[dots] (\a.east) -- (fhtml.west);
\foreach \a in {facc,fseo} \draw[dots] (fhtml.east) -- (\a.west);
\foreach \a in {fcssbasic,flayout,fresp} \draw[dots] (fcss.east) -- (\a.west);
\draw[ydots] (flayout.east |- fmodel.north) -- (fmodel.north west);
\draw[dots] (fsyntax.east) -- (fjs.west);
\foreach \a in {fdom,ffetch,fes,fconcepts} \draw[dots] (\a.north east) -- (fjs.south west);
\draw[flow] (fjs.south) to[out=-95,in=65] (fsistemas.north);
\draw[dots] (fsistemas.east) -- (fservicios.west);
\draw[dashes] (fsistemas.south -| fgit.north) -- (fgit.north);
\draw[dashes] (fservicios.south -| fhub.north) -- (fhub.north);
\draw[flow] (fsistemas.-20) to[out=-65,in=85] (fseguridad.15);
\draw[dashes] (fseguridad.-12) -- (fsecframe.159);
\draw[flow] (fseguridad.201) to[out=-120,in=90] (fpack.140);
\foreach \a in {fnpm,fyarn} \draw[dots] (\a.east) -- (fpack.west);
\draw[flow] (fpack.220) to[out=-90,in=100] (farq.29);
\draw[dots,draw=linkpink] (foocss.east) -- (farq.west);
\draw[flowthick] (farq.east) -- (fpre.west);
\draw[dots] (fpre.east) -- (fpost.west);
\draw[flow] (fpre.213) to[out=-90,in=70] (fbuild.19);
\foreach \a in {fscripts,fgulp} \draw[dots] (\a.east) -- (frunner.west);
\draw[dots] (frunner.east) -- (fbuild.west);
\draw[dots] (fbuild.east) -- (flint.west);
\foreach \a in {fprettier,feslint,fstandard} \draw[ydots] (flint.east) -- (\a.west);
\foreach \a in {fwebpack,frollup,fparcel} \draw[ydots] (\a.east) -- (fbundle.west);
\draw[dashes] (fbuild.197) to[out=-90,in=50] (fbundle.east);
\draw[flow] (fbuild.-70) to[out=-105,in=80] (fchoose.149);
\draw[ydots] (fchoose.east) -- (fangular.west);
\draw[ydots] (fchoose.14) to[out=80,in=200] (freact.west);
\draw[ydots] (fchoose.-14) to[out=-80,in=170] (fvue.west);
\foreach \a in {fredux,fmobx} \draw[ydots] (freact.east) -- (\a.west);
\draw[ydots] (fvue.east) -- (fvuex.west);
\foreach \a in {frxjs,fngrx} \draw[dots] (fangular.east) -- (\a.west);
\draw[sideline] (frxjs.east) -- (flist.west);
\draw[siderule] (flist.north west) -- (flist.south west);
\draw[flow] (fchoose.south) to[out=-85,in=5] (fmodern.east);
\foreach \a in {fstyled,fmodules,fjsx,femotion} \draw[ydots] (\a.east) -- (fmodern.west);
\foreach \a in {fradium,fglam} \draw[ydots] (\a.east) -- (fmodern.south west);
\draw[flow] (fmodern.south) to[out=-85,in=178] (fweb.west);
\foreach \a in {ftemplates,fcustom,fshadow} \draw[ydots] (fweb.east) -- (\a.west);
\draw[flow] (fweb.190) to[out=180,in=85] (fframe.north);
\draw[ydots] (fframe.east) -- (fjsframe.west |- fframe.east);
\draw[flow] (fframe.south) -- (fframe.south |- ftest.north);
\draw[ydots] (ftestframe.east |- ftest.-8) -- (ftest.west |- ftest.-8);
\draw[flow] (fjasmine.east) to[out=-15,in=92] (ftype.north);
\foreach \a in {fts,fflow} \draw[dots] (ftype.east) -- (\a.west);
\draw[sideline] (fts.east) -- (ftslist.west);
\draw[siderule] (ftslist.north west) -- (ftslist.south west);
\draw[flowthick] (fpwa.east) -- (ftype.west);
\draw[dots] (fapiframe.east |- fpwa.west) -- (fpwa.west);
\draw[dashes] (fperfframe.north -| fpwa.202) -- (fpwa.202);
\draw[flow] (fpwa.south east) to[out=-50,in=95] (fssr.154);
\draw[dots] (fssr.east) -- (fssrreact.west);
\foreach \a in {fnextjs,fafter} \draw[dots] (fssrreact.east) -- (\a.west);
\draw[dots] (fssr.-10) to[out=-80,in=170] (fssrangular.west);
\draw[dots] (fssr.-12) to[out=-88,in=130] (fssrvue.west);
\draw[dots] (fssrangular.east) -- (funiversal.west);
\draw[dots] (fssrvue.east) -- (fnuxt.west);
\draw[flow] (fssr.214) to[out=-85,in=85] (fgql.north);
\foreach \a in {fapollo,frelay} \draw[dots] (fgql.east) -- (\a.west);
\draw[flow] (fgql.195) to[out=-115,in=120] (fgen.176);
\foreach \a in {fsnext,fgatsby,fsnuxt,fvuepress,fjekyll,fhugo} \draw[dots] (fgen.east) -- (\a.west);
\draw[flowthick] (fmobile.east) -- (fgen.west);
\foreach \a in {fnative,fscript,fflutter,fionic} \draw[dots] (\a.east) -- (fmobile.west);
\draw[flow] (fdesk.north |- fmobile.south) -- (fdesk.north);
\foreach \a in {felectron,fcarlo,fproton} \draw[dots] (fdesk.east) -- (\a.west);
\draw[flow] (fdesk.west) to[out=180,in=90] (fwasm.north);
\draw[flow] (fwasm.south) -- (fkeep.north);
\band{3720}{2.529}
\pt{fkeepend}{237}{515}
\draw[dashes,shorten <=5pt] (fkeep.south) -- (fkeepend);

% backend links
\pt{bdashtop}{780}{768}
\pt{bdashbot}{767}{965}
\draw[dashes] (bdashtop) to[out=-85,in=80] (bdashbot);
\pt{bbrandstart}{355}{937}
\pt{bbrandcorner}{480}{937}
\pt{bbrandlow}{480}{1101}
\pt{bbrandend}{180}{1101}
\draw[brandline] (bbrandstart) -- (bbrandcorner) -- (bbrandlow) -- (bbrandend);
\pt{btop}{713}{1137}
\draw[flow] (btop) to[out=-108,in=100] (binternet.152);
\foreach \a in {bcomo,bhttp,bnav} \draw[dots] (\a.east) -- (binternet.west);
\foreach \a in {bdns,bdominio,bhosting} \draw[dots] (binternet.east) -- (\a.west);
\draw[dots] (bhtml.east) -- (bfront.west);
\foreach \a in {bcss,bjs} \draw[dots] (bfront.east) -- (\a.west);
\draw[flow] (bfront.-32) to[out=-70,in=75] (bso.40);
\foreach \a in {bterm,bsos,bproc,bconc} \draw[dots] (\a.east) -- (bso.west);
\draw[dots] (bcmd.north east) -- (bso.south west);
\foreach \a in {bmem,bipc,bio,bposix,bnet} \draw[dots] (bso.east) -- (\a.west);
\draw[flow] (bso.south) to[out=-100,in=100] (blang.north);
\draw[dashes] (brust.south) -- (blang.150);
\draw[dashes] (bgo.south) -- (blang.50);
\foreach \a in {bjava,bcsharp,bphp} \draw[dots] (\a.east) -- (blang.west);
\foreach \a in {bjsl,bpy,bruby} \draw[dots] (blang.east) -- (\a.west);
\draw[flow] (bjava.west) to[out=-125,in=75] (bspring.north);
\draw[flow] (bspring.south) to[out=-100,in=110] (bjwt.west);
\draw[flow] (blang.south) to[out=-80,in=70] (bsist.20);
\draw[dots] (bgit.east) -- (bsist.west);
\draw[dots] (bsist.east) -- (bserv.west);
\draw[dots] (bserv.east) -- (bbucket.west |- bserv.east);
\draw[flow] (bsist.south) to[out=-110,in=90] (brel.north);
\foreach \a in {bpg,bmysql} \draw[dots] (\a.east) -- (brel.west);
\foreach \a in {bmaria,bms,boracle} \draw[dots] (\a.east) -- (brel.south west);
\foreach \a in {bmongo,brethink,bcouch,bdynamo} \draw[dots] (bnosql.east) -- (\a.west);
\draw[flow] (brel.east) to[out=-50,in=95] (bmas.161);
\draw[flow] (bnosql.230) to[out=-110,in=90] (bmas.120);
\foreach \a in {bacid,btrans} \draw[dots] (\a.east) -- (bmas.west);
\foreach \a in {bnorm,bidx} \draw[dots] (\a.north east) -- (bmas.south west);
\foreach \a in {brep,bshard,bcap} \draw[dots] (bmas.east) -- (\a.west);
\draw[flow] (bmas.south) to[out=-80,in=80,looseness=1.2] (bapis.north);
\foreach \a in {brest,bjson,bsoap} \draw[dots] (bapis.east) -- (\a.west);
\foreach \a in {bhate,bswag,bauth} \draw[dots] (\a.east) -- (bapis.west);
\draw[dots] (bauthframe.east |- bauth.west) -- (bauth.west);
\draw[flow] (bapis.south) to[out=-100,in=20] (bcache.9);
\foreach \a in {bcdn,bserver,bclient} \draw[dots] (\a.east) -- (bcache.west);
\foreach \a in {bredis,bmemc} \draw[dots] (\a.east) -- (bserver.west);
\draw[flowthick] (bcache.east) -- (bseg.west);
\draw[dots] (bseg.east) -- (bhashframe.west |- bseg.east);
\draw[dashes] (bseg.-22) -- (bseg.-22 |- bsecframe.north);
\draw[flow] (bseg.199) to[out=-90,in=5] (btest.east);
\foreach \a in {bint,bunit,bfunc} \draw[dots] (\a.east) -- (btest.west);
\draw[flow] (btest.south) to[out=-100,in=90] (bci.north);
\draw[flow] (bci.east) to[out=-50,in=105] (bdesign.16);
\foreach \a in {bgof,bddd,btdd,bsolid,bkiss} \draw[dots] (\a.east) -- (bdesign.west);
\foreach \a in {byagni,bdry} \draw[dots] (\a.east) -- (bdesign.south west);
\draw[flowthick] (bdesign.east) -- (barq.west);
\draw[dashes] (barq.south -| bmono.north) -- (bmono.north);
\draw[flow] (bdesign.-11) to[out=-80,in=90] (bsearch.10);
\draw[dashes] (bsearch.195) -- (bsearch.195 |- belastic.north);
\draw[flow] (bsearch.-10) -- (bbroker.120);
\foreach \a in {brabbit,bkafka} \draw[dots] (bbroker.east) -- (\a.west);
\draw[flow,line width=3.5pt] (bbroker.west) to[out=180,in=60] (bcont.north);
\foreach \a in {bdocker,brkt,blxc} \draw[dots] (\a.east) -- (bcont.west);
\draw[flow,line width=3.5pt] (bcont.south) to[out=-85,in=180] (bgql.west);
\draw[dots] (bgql.east) to[out=60,in=185] (bapollo.west);
\draw[dots] (bgql.east) to[out=-50,in=180] (brelay.west);
\draw[flow,line width=3.5pt] (bgql.south) to[out=-110,in=0] (bgraph.east);
\draw[dots] (bneo.east) -- (bgraph.west);
\draw[flow] (bgraph.-21) -- (bsock.143);
\draw[flowthick] (bsock.east) -- (bweb.west);
\draw[dots] (bweb.east) to[out=70,in=185] (bnginx.west);
\foreach \a in {bapache,bcaddy,bmsiis} \draw[dots] (bweb.east) -- (\a.west);
\draw[flow] (bweb.south) to[out=-90,in=85] (bscale.34);
\foreach \a in {bdegrade,bthrottle,bback,bload,bbreak} \draw[dots] (\a.east) -- (bmitleft.west);
\draw[dots] (bmitleft.south east) -- (bscale.175);
\foreach \a in {binstr,bmon,btele} \draw[dots] (\a.east) -- (bdiff.west);
\draw[dots] (bdiff.east) -- (bscale.west);
\foreach \a in {bmitright,bhoriz,bobs} \draw[dots] (bscale.east) -- (\a.west);
\draw[flow] (bscale.south) -- (bnext.north);
\band{6720}{3}
\pt{bnextend}{747}{1370}
\draw[dashes,shorten <=5pt] (bnext.south) -- (bnextend);
\end{pgfonlayer}
\end{tikzpicture}
\end{document}
